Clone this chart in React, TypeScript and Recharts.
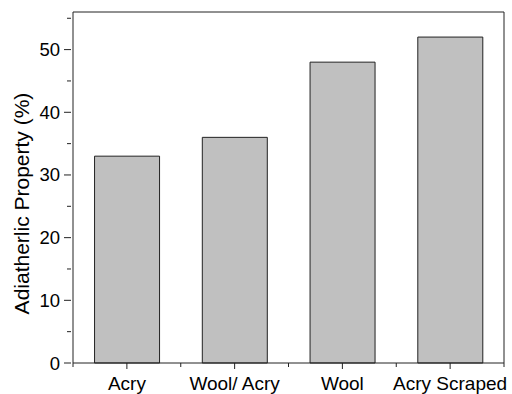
import { BarChart, Bar, XAxis, YAxis, Label } from "recharts";

const categories = ["Acry", "Wool/ Acry", "Wool", "Acry Scraped"];
const values = [33, 36, 48, 52];
const yTicks = [0, 5, 10, 15, 20, 25, 30, 35, 40, 45, 50, 55];

const data = categories.map((name, i) => ({ name, value: values[i] }));

const FONT = "'Liberation Sans', Arial, sans-serif";
const INK = "#222";

function YTick(props: any) {
  const { x, y, payload } = props;
  const major = payload.value % 10 === 0;
  return (
    <g>
      <line x1={x - (major ? 7 : 4)} x2={x} y1={y} y2={y} stroke={INK} strokeWidth={1} />
      {major && (
        <text x={x - 11} y={y} dy={6.5} textAnchor="end" fontSize={18.5} fontFamily={FONT} fill="#000">
          {payload.value}
        </text>
      )}
    </g>
  );
}

function XTick(props: any) {
  const { x, y, payload, index, visibleTicksCount } = props;
  const half = payload.offset || 0;
  const last = index === visibleTicksCount - 1;
  return (
    <g>
      <line x1={x} x2={x} y1={y} y2={y + 6} stroke={INK} />
      <line x1={x - half} x2={x - half} y1={y} y2={y + 4} stroke={INK} />
      {last && <line x1={x + half} x2={x + half} y1={y} y2={y + 4} stroke={INK} />}
      <text x={x} y={y + 26.5} textAnchor="middle" fontSize={19} fontFamily={FONT} fill="#000">
        {payload.value}
      </text>
    </g>
  );
}

function YLabel(props: any) {
  const { viewBox } = props;
  const cy = viewBox.y + viewBox.height / 2 + 16;
  const bx = 29;
  return (
    <text
      x={bx}
      y={cy}
      transform={`rotate(-90, ${bx}, ${cy})`}
      textAnchor="middle"
      fontSize={21}
      fontFamily={FONT}
      fill="#000"
    >
      Adiatherlic Property (%)
    </text>
  );
}

export default function App() {
  return (
    <div style={{ position: "absolute", left: 0, top: 0, background: "#fff" }}>
      <BarChart
        width={512}
        height={394}
        data={data}
        margin={{ top: 11, right: 7, left: 0, bottom: 0 }}
        barCategoryGap="20%"
      >
        <XAxis
          dataKey="name"
          height={31}
          tickSize={0}
          tickMargin={0}
          tickLine={false}
          axisLine={{ stroke: INK }}
          tick={<XTick />}
          interval={0}
        />
        <XAxis
          xAxisId="top"
          orientation="top"
          dataKey="name"
          height={1}
          tick={false}
          tickLine={false}
          axisLine={{ stroke: INK }}
        />
        <YAxis
          domain={[0, 56]}
          ticks={yTicks}
          width={73}
          tickLine={false}
          tickSize={0}
          axisLine={{ stroke: INK }}
          tick={<YTick />}
          interval={0}
        >
          <Label content={<YLabel />} />
        </YAxis>
        <YAxis
          yAxisId="right"
          orientation="right"
          domain={[0, 56]}
          width={1}
          tick={false}
          tickLine={false}
          axisLine={{ stroke: INK }}
        />
        <Bar dataKey="value" fill="#c0c0c0" stroke={INK} strokeWidth={1} isAnimationActive={false} />
      </BarChart>
    </div>
  );
}
